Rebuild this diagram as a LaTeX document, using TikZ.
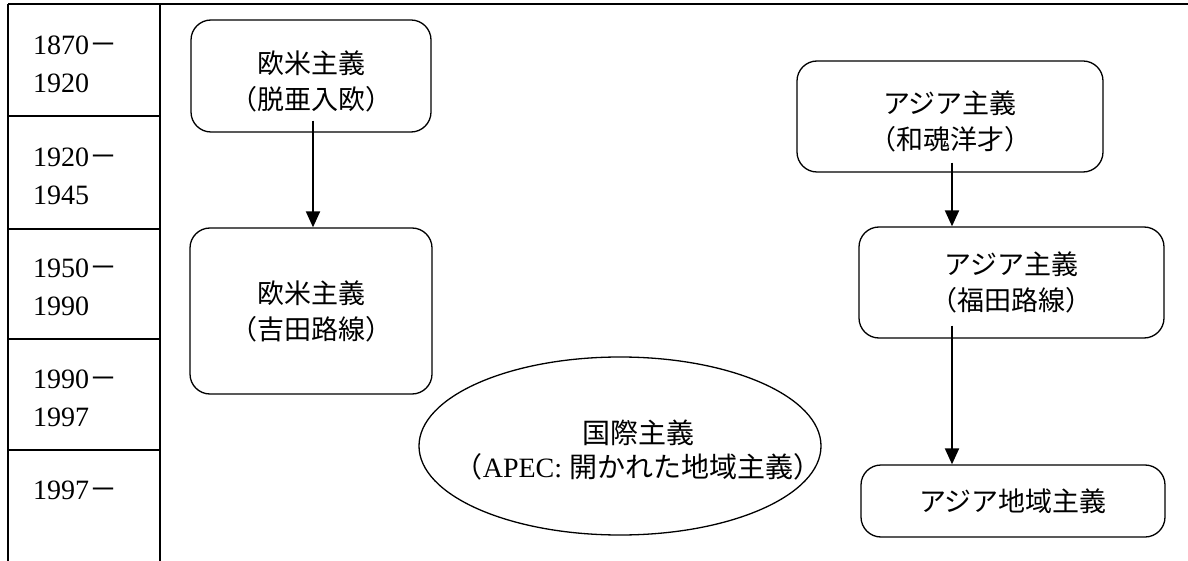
\documentclass[tikz,border=0pt]{standalone}
\usepackage{fontspec}
\setmainfont{Liberation Serif}
\newfontfamily\cjk{Noto Sans CJK JP}
\usetikzlibrary{arrows.meta,shapes.geometric}
\newcommand\jfont{\cjk\fontsize{27}{36}\selectfont}
\newcommand\yfont{\fontsize{28}{38}\selectfont}
\newcommand\dn{\rule{0pt}{33pt}}
\begin{document}
\begin{tikzpicture}[x=1pt,y=-1pt,
  rbox/.style={draw,line width=1.3pt,rounded corners=20pt,align=center,inner sep=0pt,font=\jfont},
  oval/.style={draw,ellipse,line width=1.3pt,inner sep=0pt,minimum width=402pt,minimum height=178pt},
  yr/.style={anchor=west,align=left,inner sep=0pt,font=\yfont},
  grid/.style={line width=1.2pt},
  arr/.style={line width=2pt,-{Triangle[length=16pt,width=14pt]}}]
\useasboundingbox (0,0) rectangle (1188,561);
% table frame
\draw[grid] (8,4) -- (1188,4);
\draw[grid] (8,4) -- (8,561);
\draw[grid] (160,4) -- (160,561);
\foreach \yy in {116,229,339,450} \draw[grid] (8,\yy) -- (160,\yy);
% years
\node[yr] (y1) at (33,64) {1870{\cjk －}\\1920};
\node[yr] (y2) at (33,176) {1920{\cjk －}\\1945};
\node[yr] (y3) at (33,287) {1950{\cjk －}\\1990};
\node[yr] (y4) at (33,398) {1990{\cjk －}\\1997};
\node[yr] (y5) at (33,490) {1997{\cjk －}};
% boxes
\node[rbox,minimum width=240pt,minimum height=112pt] (A) at (311,76) {\dn 欧米主義\\（脱亜入欧）};
\node[rbox,minimum width=242pt,minimum height=166pt] (B) at (311,311) {欧米主義\\（吉田路線）};
\node[rbox,minimum width=306pt,minimum height=111pt] (C) at (950,116.5) {\dn アジア主義\\（和魂洋才）};
\node[rbox,minimum width=305pt,minimum height=111pt] (D) at (1011.5,282.5) {アジア主義\\（福田路線）};
\node[rbox,minimum width=304pt,minimum height=72pt] (E) at (1013,501) {アジア地域主義};
\node[oval] (F) at (620,446) {};
\node[align=center,inner sep=0pt,font=\fontsize{28}{34}\selectfont] (Ft) at (638,450)
  {{\cjk 国際主義}\\{\cjk （}APEC: {\cjk 開かれた地域主義）}};
% arrows
\draw[arr] ([xshift=2pt,yshift=12pt]A.south) -- ([xshift=2pt]A.south |- B.north);
\draw[arr] ([xshift=2pt,yshift=10pt]C.south) -- ([xshift=2pt]C.south |- D.north);
\draw[arr] ([xshift=-59.5pt,yshift=13pt]D.south) -- ([xshift=-59.5pt]D.south |- E.north);
\end{tikzpicture}
\end{document}
